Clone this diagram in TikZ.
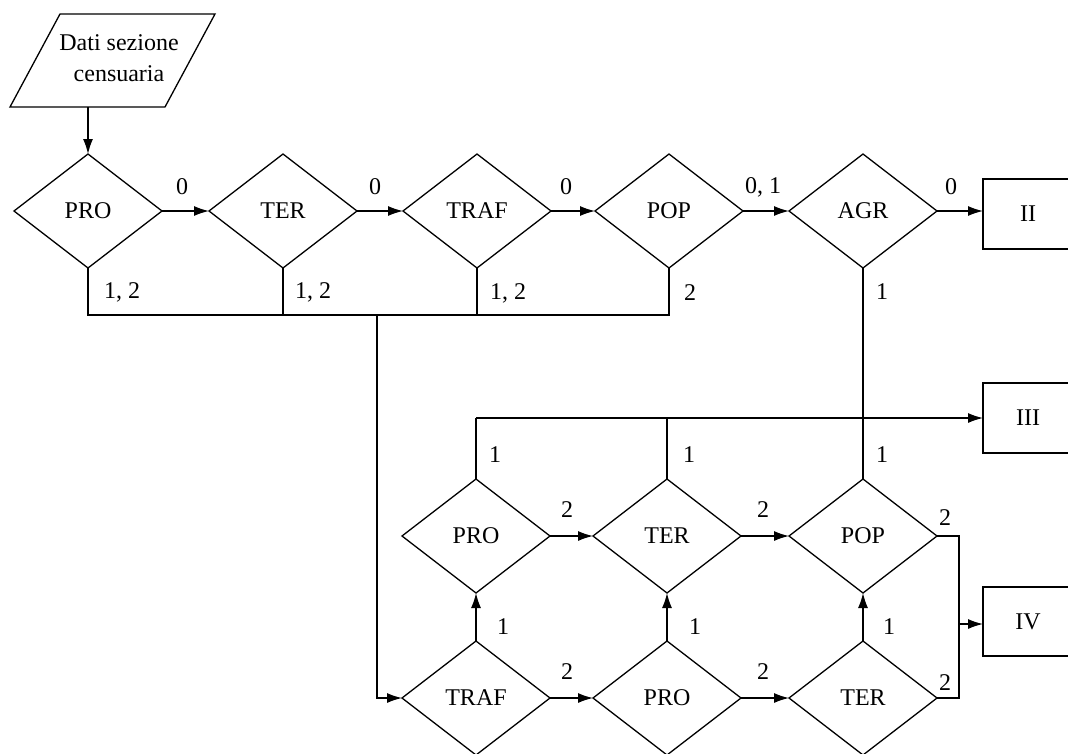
\documentclass[tikz,border=0pt]{standalone}
\usepackage{fontspec}
\setmainfont{Liberation Serif}
\usetikzlibrary{shapes.geometric,arrows.meta}
\begin{document}
\begin{tikzpicture}[x=1pt,y=-1pt,
  every node/.style={font=\fontsize{24}{31}\selectfont},
  dia/.style={draw, diamond, minimum width=148pt, minimum height=114pt, inner sep=0pt, outer sep=0pt, line width=1.3pt},
  box/.style={draw, rectangle, minimum width=90pt, minimum height=70pt, inner sep=0pt, outer sep=0pt, line width=1.3pt},
  lbl/.style={inner sep=0pt},
  ln/.style={line width=1.3pt},
  arr/.style={line width=1.3pt, -{Latex[length=15pt,width=10pt]}}]
\clip (0,0) rectangle (1068,753);
\fill[white] (0,0) rectangle (1068,753);
% input parallelogram
\draw[ln] (60,14) -- (215,14) -- (165,107) -- (10,107) -- cycle;
\node[align=center, inner sep=0pt] (dati) at (119,58) {Dati sezione\\censuaria};
\coordinate (datib) at (88,107);
% top row
\node[dia] (pro1) at (88,211) {PRO};
\node[dia] (ter1) at (283,211) {TER};
\node[dia] (traf1) at (477,211) {TRAF};
\node[dia] (pop1) at (669,211) {POP};
\node[dia] (agr) at (863,211) {AGR};
\node[box] (b2) at (1028,214) {II};
% middle row
\node[dia] (pro2) at (476,536) {PRO};
\node[dia] (ter2) at (667,536) {TER};
\node[dia] (pop2) at (863,536) {POP};
\node[box] (b3) at (1028,418) {III};
% bottom row
\node[dia] (traf2) at (476,698) {TRAF};
\node[dia] (pro3) at (667,698) {PRO};
\node[dia] (ter3) at (863,698) {TER};
\node[box, minimum height=69pt] (b4) at (1028,621.5) {IV};
% coordinates
\coordinate (busA) at (88,315);
\coordinate (busB) at (283,315);
\coordinate (busC) at (377,315);
\coordinate (busD) at (477,315);
\coordinate (busE) at (669,315);
\coordinate (downC) at (377,698);
\coordinate (l3a) at (476,418);
\coordinate (l3b) at (667,418);
\coordinate (r4a) at (959,536);
\coordinate (r4b) at (959,698);
\coordinate (r4m) at (959,624);
% connectors
\draw[arr] (datib) -- (pro1.north);
\draw[arr] (pro1.east) -- (ter1.west);
\draw[arr] (ter1.east) -- (traf1.west);
\draw[arr] (traf1.east) -- (pop1.west);
\draw[arr] (pop1.east) -- (agr.west);
\draw[arr] (agr.east) -- (agr.east -| b2.west);
\draw[ln] (pro1.south) -- (busA) -- (busE) -- (pop1.south);
\draw[ln] (ter1.south) -- (busB);
\draw[ln] (traf1.south) -- (busD);
\draw[arr] (busC) -- (downC) -- (traf2.west);
\draw[ln] (agr.south) -- (pop2.north);
\draw[ln] (pro2.north) -- (l3a);
\draw[ln] (ter2.north) -- (l3b);
\draw[arr] (l3a) -- (b3.west);
\draw[arr] (pro2.east) -- (ter2.west);
\draw[arr] (ter2.east) -- (pop2.west);
\draw[arr] (traf2.east) -- (pro3.west);
\draw[arr] (pro3.east) -- (ter3.west);
\draw[arr] (traf2.north) -- (pro2.south);
\draw[arr] (pro3.north) -- (ter2.south);
\draw[arr] (ter3.north) -- (pop2.south);
\draw[ln] (pop2.east) -- (r4a) -- (r4b) -- (ter3.east);
\draw[arr] (r4m) -- (r4m -| b4.west);
% labels
\node[lbl] (t1) at (182,187) {0};
\node[lbl] (t2) at (375,187) {0};
\node[lbl] (t3) at (566,187) {0};
\node[lbl] (t4) at (763,187) {0, 1};
\node[lbl] (t5) at (951,187) {0};
\node[lbl] (u1) at (122,292) {1, 2};
\node[lbl] (u2) at (313,292) {1, 2};
\node[lbl] (u3) at (508,293) {1, 2};
\node[lbl] (u4) at (690,293) {2};
\node[lbl] (u5) at (882,292) {1};
\node[lbl] (m1) at (495,455) {1};
\node[lbl] (m2) at (689,455) {1};
\node[lbl] (m3) at (882,455) {1};
\node[lbl] (m4) at (567,510) {2};
\node[lbl] (m5) at (763,510) {2};
\node[lbl] (m6) at (945,518) {2};
\node[lbl] (v1) at (503,627) {1};
\node[lbl] (v2) at (695,627) {1};
\node[lbl] (v3) at (889,627) {1};
\node[lbl] (w1) at (567,672) {2};
\node[lbl] (w2) at (763,672) {2};
\node[lbl] (w3) at (945,683) {2};
\end{tikzpicture}
\end{document}
